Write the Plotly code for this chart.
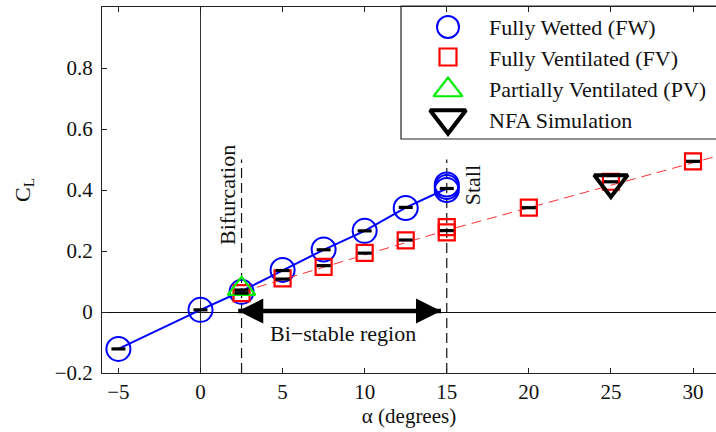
import plotly.graph_objects as go

# ---------------- data ----------------
fw_x = [-5, 0, 2.5, 5, 7.5, 10, 12.5, 15, 15, 15]
fw_y = [-0.121, 0.007, 0.066, 0.138, 0.205, 0.266, 0.341, 0.418, 0.410, 0.400]

fw_line_x = [-5, 0, 2.5, 5, 7.5, 10, 12.5, 15]
fw_line_y = [-0.121, 0.007, 0.068, 0.136, 0.204, 0.266, 0.342, 0.405]

fv_x = [2.5, 5, 7.5, 10, 12.5, 15, 15, 20, 25, 30]
fv_y = [0.062, 0.110, 0.148, 0.194, 0.235, 0.278, 0.261, 0.342, 0.427, 0.494]

fv_fit_x = [2.5, 15, 31.4]
fv_fit_y = [0.066, 0.268, 0.510]

pv_x = [2.5]
pv_y = [0.076]

nfa_x = [25]
nfa_y = [0.425]

mean_x = [-5, 0, 2.5, 2.5, 5, 5, 7.5, 7.5, 10, 10, 12.5, 12.5, 15, 15, 20, 25, 30]
mean_y = [-0.121, 0.007, 0.072, 0.062, 0.136, 0.108, 0.204, 0.152, 0.266, 0.193,
          0.343, 0.236, 0.405, 0.267, 0.342, 0.427, 0.494]

x_ticks = [-5, 0, 5, 10, 15, 20, 25, 30]
y_ticks = [-0.2, 0, 0.2, 0.4, 0.6, 0.8]

bifurcation_x = 2.5
stall_x = 15
marker_line_top = 0.5
bistable_arrow_x = [2.3, 14.65]
bistable_arrow_y = [0.003, 0.003]

legend_labels = ["Fully Wetted (FW)", "Fully Ventilated (FV)",
                 "Partially Ventilated (PV)", "NFA Simulation"]

# ---------------- styling ----------------
SERIF = "Liberation Serif"
TXT = "#111111"
BLUE = "#0000ff"
RED = "#ff0000"
GREEN = "#00ee00"

L, R, T, B = 102, 0, 7, 59
W, H = 716, 432
PW, PH = W - L - R, H - T - B
X_RANGE = [-6, 31.4]
Y_RANGE = [-0.2, 1.0]


def px_x(p):
    return (p - L) / PW


def px_y(p):
    return (H - B - p) / PH


def px_to_data_x(p):
    return X_RANGE[0] + px_x(p) * (X_RANGE[1] - X_RANGE[0])


def px_to_data_y(p):
    return Y_RANGE[0] + px_y(p) * (Y_RANGE[1] - Y_RANGE[0])


fig = go.Figure()

# fully wetted line + markers
fig.add_trace(go.Scatter(x=fw_line_x, y=fw_line_y, mode="lines",
                         line=dict(color=BLUE, width=2), showlegend=False,
                         hoverinfo="skip"))
fig.add_trace(go.Scatter(x=fw_x, y=fw_y, mode="markers", name=legend_labels[0],
                         marker=dict(symbol="circle-open", size=24, color=BLUE,
                                     line=dict(width=2, color=BLUE)),
                         showlegend=False))
# fully ventilated markers
fig.add_trace(go.Scatter(x=fv_x, y=fv_y, mode="markers", name=legend_labels[1],
                         marker=dict(symbol="square-open", size=16, color=RED,
                                     line=dict(width=2.2, color=RED)),
                         showlegend=False))
# fit for FV
fig.add_trace(go.Scatter(x=fv_fit_x, y=fv_fit_y, mode="lines",
                         line=dict(color="#ff3030", width=1, dash="10px,6px"),
                         showlegend=False, hoverinfo="skip"))
# partially ventilated
fig.add_trace(go.Scatter(x=pv_x, y=pv_y, mode="markers", name=legend_labels[2],
                         marker=dict(symbol="triangle-up-open", size=24, color=GREEN,
                                     line=dict(width=2.2, color=GREEN)),
                         showlegend=False))
# NFA simulation
fig.add_trace(go.Scatter(x=nfa_x, y=nfa_y, mode="markers", name=legend_labels[3],
                         marker=dict(symbol="triangle-down-open", size=29, color="black",
                                     line=dict(width=4, color="black")),
                         showlegend=False))
# mean dashes
fig.add_trace(go.Scatter(x=mean_x, y=mean_y, mode="markers",
                         marker=dict(symbol="line-ew-open", size=10, color="black",
                                     line=dict(width=3.2, color="black")),
                         showlegend=False, hoverinfo="skip"))

# double arrow for bi-stable region
fig.add_trace(go.Scatter(x=bistable_arrow_x, y=bistable_arrow_y, mode="lines+markers",
                         line=dict(color="black", width=4.5),
                         marker=dict(symbol=["arrow-left", "arrow-right"], size=25,
                                     color="black", line=dict(width=0)),
                         showlegend=False, hoverinfo="skip", cliponaxis=False))

# ---------------- manual legend ----------------
leg_marker_x = 448
leg_rows = [27, 57, 88, 119]
leg_styles = [
    dict(symbol="circle-open", size=22, color=BLUE, line=dict(width=2, color=BLUE)),
    dict(symbol="square-open", size=17, color=RED, line=dict(width=2.2, color=RED)),
    dict(symbol="triangle-up-open", size=25, color=GREEN, line=dict(width=2.2, color=GREEN)),
    dict(symbol="triangle-down-open", size=31, color="black", line=dict(width=4.2, color="black")),
]
leg_marker_dy = [0, 0, 2, -1]
for row, st, dy in zip(leg_rows, leg_styles, leg_marker_dy):
    fig.add_trace(go.Scatter(x=[px_to_data_x(leg_marker_x)], y=[px_to_data_y(row + dy)],
                             mode="markers", marker=st, showlegend=False,
                             hoverinfo="skip", cliponaxis=False))

fig.add_shape(type="rect", xref="paper", yref="paper",
              x0=px_x(401), x1=px_x(722), y0=px_y(139), y1=px_y(6),
              line=dict(color="#222222", width=1.2), fillcolor="white", layer="below")

annotations = []
for row, lab in zip(leg_rows, legend_labels):
    annotations.append(dict(x=px_x(487), y=px_y(row + 1), xref="paper", yref="paper",
                            text=lab, showarrow=False, xanchor="left", yanchor="middle",
                            font=dict(family=SERIF, size=22, color=TXT)))

# ---------------- reference lines ----------------
for xv in (bifurcation_x, stall_x):
    fig.add_shape(type="line", xref="x", yref="y", x0=xv, x1=xv,
                  y0=Y_RANGE[0], y1=marker_line_top,
                  line=dict(color="#111111", width=1.2, dash="10px,5px"), layer="below")

annotations.append(dict(x=8.69, y=-0.072, xref="x", yref="y", text="Bi\u2212stable region",
                        showarrow=False, font=dict(family=SERIF, size=22, color=TXT)))
annotations.append(dict(x=1.68, y=0.384, xref="x", yref="y", text="Bifurcation",
                        textangle=-90, showarrow=False,
                        font=dict(family=SERIF, size=22, color=TXT)))
annotations.append(dict(x=16.55, y=0.416, xref="x", yref="y", text="Stall",
                        textangle=-90, showarrow=False,
                        font=dict(family=SERIF, size=22, color=TXT)))

fig.update_layout(
    width=W, height=H,
    margin=dict(l=L, r=R, t=T, b=B, pad=0),
    paper_bgcolor="white", plot_bgcolor="white",
    showlegend=False,
    font=dict(family=SERIF, color=TXT),
    annotations=annotations,
    xaxis=dict(range=X_RANGE, tickvals=x_ticks, ticks="inside", ticklen=5,
               tickcolor="#222", showline=True, linecolor="#222", linewidth=1,
               mirror="ticks", showgrid=False, zeroline=False,
               tickfont=dict(family=SERIF, size=21, color=TXT),
               title=dict(text="\u03b1 (degrees)",
                          font=dict(family=SERIF, size=21, color=TXT), standoff=5)),
    yaxis=dict(range=Y_RANGE, tickvals=y_ticks, ticks="inside", ticklen=5,
               tickcolor="#222", showline=True, linecolor="#222", linewidth=1,
               mirror=False, showgrid=False, zeroline=True, zerolinecolor="#111",
               zerolinewidth=1, ticklabelstandoff=4,
               tickfont=dict(family=SERIF, size=21, color=TXT),
               title=dict(text="C<sub>L</sub>", font=dict(family=SERIF, size=22, color=TXT),
                          standoff=18)),
)
# vertical line at alpha = 0
fig.add_shape(type="line", xref="x", yref="paper", x0=0, x1=0, y0=0, y1=1,
              line=dict(color="#333333", width=1), layer="below")

fig.write_html("out.html")
